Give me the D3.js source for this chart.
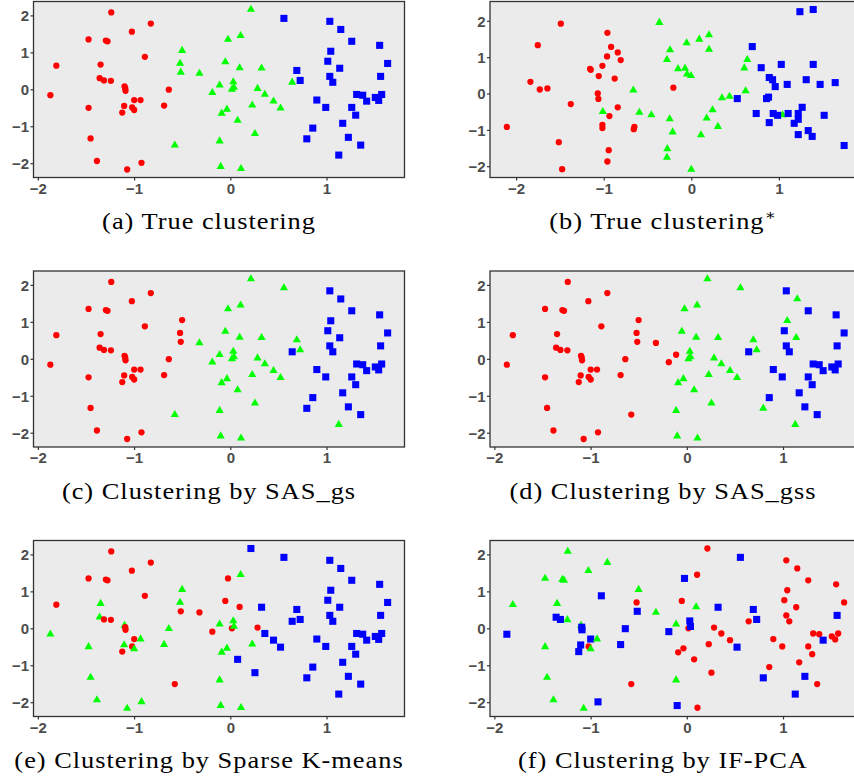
<!DOCTYPE html>
<meta charset="utf-8">
<style>
	body { margin: 0; background: #fff; }
	.caption { font-family: "Liberation Serif", "DejaVu Serif", serif; font-size: 24px; fill: #000; letter-spacing: 0.9px; }
</style>
<svg width="854" height="780"></svg>
<script src="https://d3js.org/d3.v7.min.js"></script>
<script>
	// shared data set (panels a, c, d, e, f): red group, green group, blue group in reading order
	var xs = [
		-1.237, -0.826, -1.023, -1.473, -1.293, -1.276, -0.888, -1.808, -1.348, -1.358,
		-1.313, -1.241, -1.099, -1.092, -1.089, -0.639, -1.870, -0.999, -0.933, -1.473,
		-1.103, -1.020, -0.999, -1.123, -0.688, -1.452, -1.386, -0.923, -1.072,
		0.214, -0.024, 0.107, -0.501, -0.522, -0.515, -0.321, -0.052, 0.097, 0.325,
		0.643, -0.111, 0.031, 0.017, 0.038, -0.187, 0.283, 0.359, 0.449, 0.522,
		0.228, -0.035, -0.090, 0.076, 0.256, -0.111, -0.577, -0.100, 0.111,
		0.557, 1.034, 1.148, 1.262, 1.552, 1.044, 1.013, 1.635, 1.137, 0.691,
		0.726, 1.034, 1.065, 1.562, 1.313, 1.376, 1.417, 1.507, 1.542, 1.573,
		0.899, 0.992, 1.262, 1.303, 1.168, 0.857, 0.795, 1.227, 1.355, 1.127
	];
	var ys = [
		2.08, 1.78, 1.56, 1.35, 1.32, 1.30, 0.88, 0.64, 0.67, 0.30,
		0.24, 0.23, 0.08, 0.03, -0.04, -0.01, -0.16, -0.29, -0.29, -0.50,
		-0.45, -0.49, -0.56, -0.63, -0.44, -1.33, -1.94, -1.99, -2.17,
		2.16, 1.35, 1.45, 1.05, 0.70, 0.46, 0.43, 0.74, 0.58, 0.57,
		0.19, 0.11, 0.20, 0.00, 0.05, -0.09, 0.02, -0.14, -0.32, -0.51,
		-0.43, -0.54, -0.65, -0.84, -1.20, -1.40, -1.51, -2.09, -2.15,
		1.92, 1.84, 1.62, 1.30, 1.19, 1.03, 0.76, 0.70, 0.57, 0.51,
		0.24, 0.35, 0.19, 0.35, -0.14, -0.16, -0.32, -0.22, -0.30, -0.14,
		-0.29, -0.49, -0.49, -0.70, -0.92, -1.05, -1.34, -1.30, -1.51, -1.78
	];

	// cluster labels, 1 = red circle, 2 = green triangle, 3 = blue square
	var labelsA = [
		1,1,1,1,1,1,1,1,1,1, 1,1,1,1,1,1,1,1,1,1, 1,1,1,1,1,1,1,1,1,
		2,2,2,2,2,2,2,2,2,2, 2,2,2,2,2,2,2,2,2,2, 2,2,2,2,2,2,2,2,2,
		3,3,3,3,3,3,3,3,3,3, 3,3,3,3,3,3,3,3,3,3, 3,3,3,3,3,3,3,3,3,3
	];
	var labelsC = [
		1,1,1,1,1,1,1,1,1,1, 1,1,1,1,1,1,1,1,1,1, 1,1,1,1,1,1,1,1,1,
		2,2,2,1,1,1,2,2,2,2, 3,2,2,2,2,2,2,2,2,2, 2,2,2,2,2,2,2,2,2,
		2,3,3,3,3,3,3,3,3,2, 2,3,3,3,3,3,3,3,3,3, 3,3,3,3,3,3,3,3,3,2
	];
	var labelsD = [
		1,1,1,1,1,1,1,1,1,1, 1,1,1,1,1,1,1,1,1,1, 1,1,1,1,1,1,1,1,1,
		2,2,2,1,1,1,1,2,2,2, 3,1,2,2,2,1,2,2,2,2, 2,2,2,2,2,2,1,2,2,
		2,3,2,3,3,2,3,3,2,2, 2,3,3,3,3,3,3,3,3,3, 3,3,3,3,3,3,2,3,3,2
	];
	var labelsE = [
		1,1,1,1,1,1,1,1,2,2, 1,1,2,1,1,2,2,1,2,2, 2,1,2,1,2,2,2,2,2,
		3,1,2,2,2,1,1,1,1,3, 3,2,2,1,2,1,1,3,3,3, 2,2,2,3,3,2,1,2,2,
		3,3,3,3,3,3,3,3,3,3, 3,3,3,3,3,3,3,3,3,3, 3,3,3,3,3,3,3,3,3,3
	];
	var labelsF = [
		2,2,2,2,2,2,3,2,2,3, 3,2,2,3,3,3,3,3,2,2, 3,1,2,3,3,2,2,3,2,
		1,3,1,2,1,3,2,1,2,3, 1,2,3,1,3,3,1,1,1,3, 1,1,1,1,1,2,1,3,1,
		3,1,1,1,1,1,1,1,1,3, 3,1,1,3,1,1,3,1,1,1, 1,1,1,1,1,1,3,3,1,3
	];

	// panel (b) has its own data
	var bX = [
		-1.490, -0.958, -1.753, -0.916, -0.840, -0.962, -0.806, -1.015, -1.156, -1.148,
		-1.057, -0.875, -1.837, -1.730, -1.643, -0.205, -1.068, -1.061, -1.376, -0.840,
		-0.935, -2.106, -1.015, -1.015, -0.650, -0.657, -1.513, -0.943, -0.958, -1.475,
		-0.365, 0.091, 0.202, -0.053, 0.202, -0.243, -0.278, -0.152, -0.072, -0.049,
		-0.004, 0.639, 0.605, 0.620, -0.662, 0.350, 0.437, 0.243, -1.011, -0.593,
		-0.456, -0.247, 0.175, 0.304, -0.213, 0.110, -0.274, -0.278, 0.000, 1.042,
		1.240, 1.392, 0.696, 1.027, 1.392, 0.798, 0.890, 0.928, 0.958, 1.095,
		1.312, 1.471, 1.643, 0.525, 0.859, 0.882, 0.741, 0.935, 0.985, 1.106,
		1.221, 1.266, 1.221, 1.175, 0.890, 1.517, 1.335, 1.221, 1.380, 1.745
	];
	var bY = [
		1.92, 1.67, 1.33, 1.28, 1.13, 1.02, 0.92, 0.76, 0.68, 0.65,
		0.48, 0.41, 0.32, 0.11, 0.14, 0.16, 0.00, -0.15, -0.29, -0.38,
		-0.62, -0.92, -0.86, -0.95, -0.92, -0.98, -1.34, -1.56, -1.87, -2.08,
		1.95, 1.49, 1.61, 1.39, 1.21, 1.20, 0.93, 0.68, 0.69, 0.53,
		0.49, 0.93, 0.70, 0.07, 0.09, -0.12, -0.08, -0.45, -0.50, -0.52,
		-0.59, -0.70, -0.68, -0.91, -1.06, -1.14, -1.52, -1.76, -2.09, -0.59,
		2.25, 2.31, 1.29, 0.80, 0.80, 0.71, 0.44, 0.38, 0.19, 0.25,
		0.38, 0.25, 0.30, -0.14, -0.14, -0.10, -0.55, -0.55, -0.60, -0.55,
		-0.55, -0.38, -0.71, -0.82, -0.80, -0.60, -1.02, -1.13, -1.18, -1.43
	];
	var labelsB = [
		1,1,1,1,1,1,1,1,1,1, 1,1,1,1,1,1,1,1,1,1, 1,1,1,1,1,1,1,1,1,1,
		2,2,2,2,2,2,2,2,2,2, 2,2,2,2,2,2,2,2,2,2, 2,2,2,2,2,2,2,2,2,2,
		3,3,3,3,3,3,3,3,3,3, 3,3,3,3,3,3,3,3,3,3, 3,3,3,3,3,3,3,3,3,3
	];

	var xTicks = [-2, -1, 0, 1],
		yTicks = [-2, -1, 0, 1, 2];

	var svg = d3.select("svg"),
		pw = 371, ph = 176;

	var colour = {1: "#ff0000", 2: "#00ff00", 3: "#0000ff"},
		shape = {1: d3.symbolCircle, 2: d3.symbolTriangle, 3: d3.symbolSquare},
		size  = {1: 31, 2: 29, 3: 50};

	var panels = [
		{x: xs, y: ys, lab: labelsA, left: 33.5, top: 1.5, cap: "(a) True clustering", cx: 209, cy: 229},
		{x: bX, y: bY, lab: labelsB, left: 490, top: 1.5, cap: "(b) True clustering", star: true, cx: 663, cy: 229},
		{x: xs, y: ys, lab: labelsC, left: 33.5, top: 271, cap: "(c) Clustering by SAS_gs", cx: 209, cy: 499},
		{x: xs, y: ys, lab: labelsD, left: 490, top: 271, cap: "(d) Clustering by SAS_gss", cx: 663, cy: 499},
		{x: xs, y: ys, lab: labelsE, left: 33.5, top: 540.5, cap: "(e) Clustering by Sparse K-means", cx: 209, cy: 768},
		{x: xs, y: ys, lab: labelsF, left: 490, top: 540.5, cap: "(f) Clustering by IF-PCA", cx: 663, cy: 768}
	];

	function padded(ext) {
		var d = (ext[1] - ext[0]) * 0.05;
		return [ext[0] - d, ext[1] + d];
	}

	panels.forEach(function(p) {
		var g = svg.append("g").attr("transform", "translate(" + p.left + "," + p.top + ")");

		var x = d3.scaleLinear().domain(padded(d3.extent(p.x))).range([0, pw]),
			y = d3.scaleLinear().domain(padded(d3.extent(p.y))).range([ph, 0]);

		g.append("rect").attr("width", pw).attr("height", ph).attr("fill", "#ebebeb");

		var pts = d3.range(p.x.length);
		g.append("g").selectAll("path").data(pts).enter().append("path")
			.attr("transform", function(i){ return "translate(" + x(p.x[i]) + "," + y(p.y[i]) + ")"; })
			.attr("d", function(i){ return d3.symbol().type(shape[p.lab[i]]).size(size[p.lab[i]])(); })
			.attr("fill", function(i){ return colour[p.lab[i]]; });

		g.append("rect").attr("width", pw).attr("height", ph)
			.attr("fill", "none").attr("stroke", "#333").attr("stroke-width", 1.3);

		var ax = g.append("g").attr("transform", "translate(0," + ph + ")")
			.call(d3.axisBottom(x).tickValues(xTicks).tickFormat(d3.format("d")).tickSize(3).tickPadding(2.5));
		var ay = g.append("g")
			.call(d3.axisLeft(y).tickValues(yTicks).tickFormat(d3.format("d")).tickSize(3).tickPadding(1.5));
		[ax, ay].forEach(function(a){
			a.attr("font-family", "'Liberation Sans', Arial, sans-serif").attr("font-size", 15).attr("font-weight", "bold");
			a.select(".domain").remove();
			a.selectAll(".tick line").attr("stroke", "#333").attr("stroke-width", 1.2);
			a.selectAll(".tick text").attr("fill", "#4d4d4d");
		});
		ay.selectAll(".tick text").attr("dy", "0.36em");

		// Computer Modern is wider than Times, so stretch the caption a little
		var t = svg.append("text").attr("class", "caption")
			.attr("transform", "translate(" + p.cx + "," + p.cy + ") scale(1.1,1)")
			.attr("text-anchor", "middle").text(p.cap);
		if (p.star) t.append("tspan").attr("dy", -9).style("font-size", "15px").text("∗");
	});
</script>
